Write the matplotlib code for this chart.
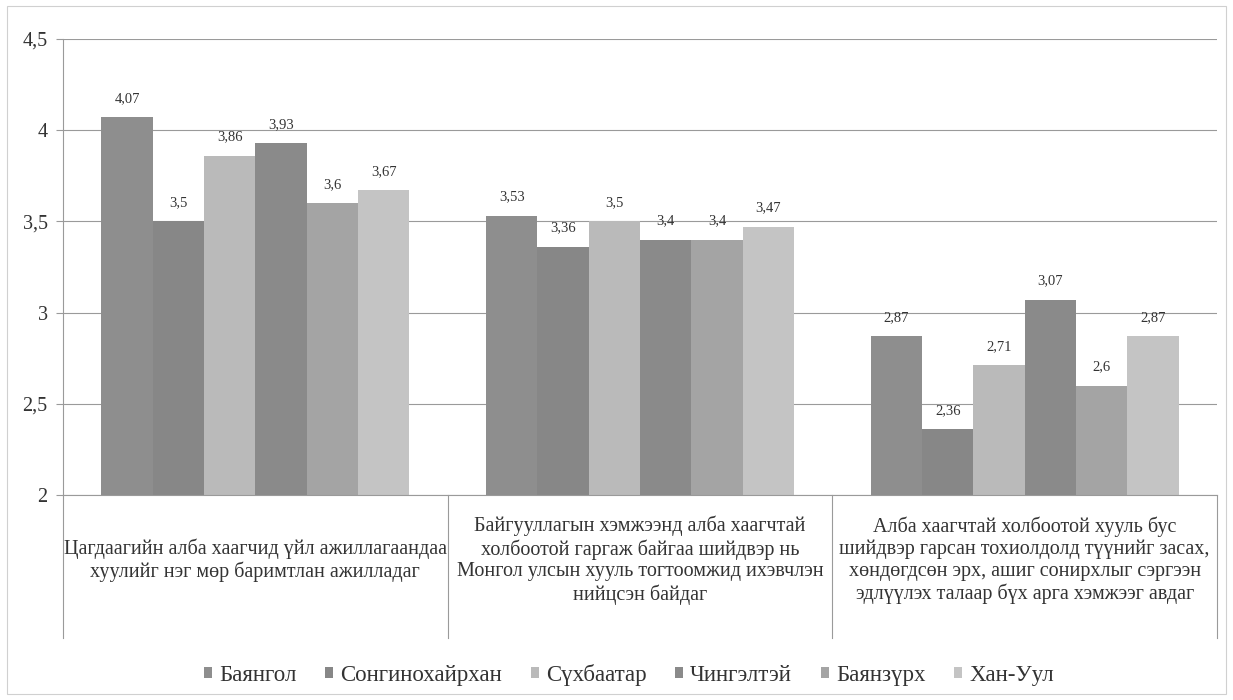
import matplotlib
matplotlib.use('Agg')
import matplotlib.pyplot as plt
import numpy as np
from matplotlib.ticker import FuncFormatter, MultipleLocator
from matplotlib.patches import Rectangle

plt.rcParams['font.family'] = ['Liberation Serif', 'DejaVu Serif']

categories = [
    "Цагдаагийн алба хаагчид үйл ажиллагаандаа\nхуулийг нэг мөр баримтлан ажилладаг",
    "Байгууллагын хэмжээнд алба хаагчтай\nхолбоотой гаргаж байгаа шийдвэр нь\nМонгол улсын хууль тогтоомжид ихэвчлэн\nнийцсэн байдаг",
    "Алба хаагчтай холбоотой хууль бус\nшийдвэр гарсан тохиолдолд түүнийг засах,\nхөндөгдсөн эрх, ашиг сонирхлыг сэргээн\nэдлүүлэх талаар бүх арга хэмжээг авдаг",
]
series_names = ["Баянгол", "Сонгинохайрхан", "Сүхбаатар", "Чингэлтэй", "Баянзүрх", "Хан-Уул"]
bayangol = [4.07, 3.53, 2.87]
songinokhairkhan = [3.5, 3.36, 2.36]
sukhbaatar = [3.86, 3.5, 2.71]
chingeltei = [3.93, 3.4, 3.07]
bayanzurkh = [3.6, 3.4, 2.6]
khan_uul = [3.67, 3.47, 2.87]
series_values = [bayangol, songinokhairkhan, sukhbaatar, chingeltei, bayanzurkh, khan_uul]
colors = ["#8e8e8e", "#878787", "#bababa", "#8a8a8a", "#a4a4a4", "#c4c4c4"]

def comma(v):
    s = f"{v:g}"
    return s.replace('.', ',')

fig = plt.figure(figsize=(12.33, 7), dpi=100)
ax = fig.add_axes([0.0511, 0.2929, 0.9359, 0.6514])

x = np.arange(len(categories))
n = len(series_names)
width = 0.8 / n
for i, (name, vals, col) in enumerate(zip(series_names, series_values, colors)):
    pos = x + (i - (n - 1) / 2) * width
    ax.bar(pos, vals, width, color=col, label=name, zorder=2, linewidth=0)
    for px, v in zip(pos, vals):
        ax.annotate(comma(v), xy=(px, v), xytext=(0, 13.5), textcoords='offset points',
                    ha='center', va='center', fontsize=10.5, color='#333333', zorder=3)

ax.set_xlim(-0.5, len(categories) - 0.5)
ax.set_ylim(2, 4.5)
ax.yaxis.set_major_locator(MultipleLocator(0.5))
ax.yaxis.set_major_formatter(FuncFormatter(lambda v, p: comma(round(v, 2))))
ax.yaxis.grid(True, color='#9a9a9a', linewidth=0.8, zorder=0)
ax.set_axisbelow(True)
for s in ['top', 'right']:
    ax.spines[s].set_visible(False)
for s in ['left', 'bottom']:
    ax.spines[s].set_color('#9a9a9a')
    ax.spines[s].set_linewidth(0.8)
ax.tick_params(axis='y', length=5, color='#9a9a9a', labelsize=14.5, labelcolor='#333333', pad=6)
ax.set_xticks([])

trans = ax.get_xaxis_transform()
for b in np.arange(len(categories) + 1) - 0.5:
    ax.plot([b, b], [0, -0.314], transform=trans, color='#9a9a9a', lw=0.8, clip_on=False)

for xi, lab in zip(x, categories):
    ax.text(xi, -0.143, lab, transform=trans, ha='center', va='center', fontsize=14.5,
            color='#333333', linespacing=1.2)

fig.legend(loc='center', bbox_to_anchor=(0.51, 0.036), ncol=n, frameon=False,
           fontsize=16.5, handlelength=0.36, handleheight=0.36, handletextpad=0.3,
           columnspacing=1.25, labelcolor='#333333')

fig.patches.append(Rectangle((0.006, 0.008), 0.988, 0.984, transform=fig.transFigure,
                             fill=False, ec='#d0d0d0', lw=0.8))

fig.savefig('out.png', dpi=100)
